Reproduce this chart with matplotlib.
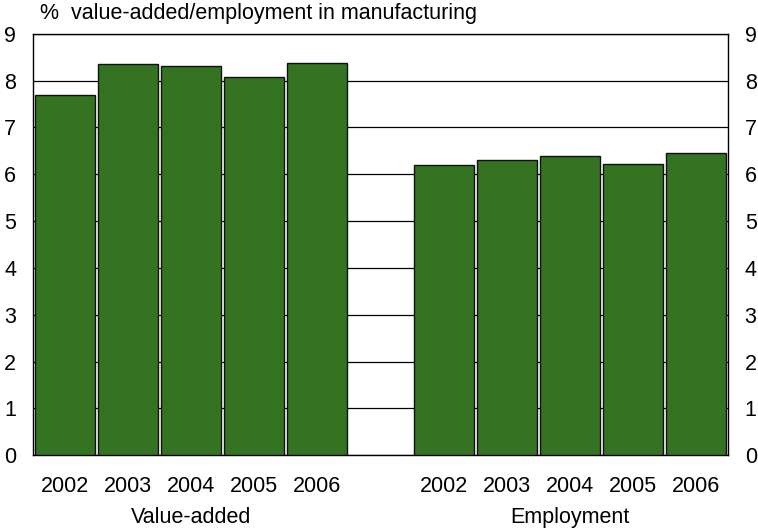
import matplotlib
matplotlib.use("Agg")
import matplotlib.pyplot as plt

plt.rcParams["font.family"] = ["Liberation Sans", "DejaVu Sans"]

years = ["2002", "2003", "2004", "2005", "2006"]
value_added = [7.7, 8.35, 8.32, 8.07, 8.37]
employment = [6.2, 6.3, 6.4, 6.22, 6.45]
groups = ["Value-added", "Employment"]


def main():
    fig = plt.figure(figsize=(7.58, 5.28), dpi=100)
    ax = fig.add_axes([0.0435, 0.138, 0.917, 0.798])

    xs_va = list(range(len(years)))
    xs_emp = [x + len(years) + 1 for x in xs_va]
    bar_kw = dict(width=0.95, color="#337322", edgecolor="#111111", linewidth=1.0, zorder=3)
    ax.bar(xs_va, value_added, **bar_kw)
    ax.bar(xs_emp, employment, **bar_kw)

    ax.set_xlim(-0.5, xs_emp[-1] + 0.5)
    ax.set_ylim(0, 9)
    ax.set_yticks(range(10))
    ax.yaxis.grid(True, color="black", linewidth=0.9)
    ax.set_axisbelow(True)
    for s in ax.spines.values():
        s.set_color("black")
        s.set_linewidth(1.0)

    ax.set_xticks(xs_va + xs_emp)
    ax.set_xticklabels(years + years)
    ax.tick_params(axis="both", length=0, labelsize=15.5)
    ax.tick_params(axis="x", pad=15)
    ax.tick_params(axis="y", pad=12, labelright=True)

    centers = [sum(xs_va) / len(xs_va), sum(xs_emp) / len(xs_emp)]
    for c, name in zip(centers, groups):
        ax.text(c, -0.147, name, transform=ax.get_xaxis_transform(),
                ha="center", va="center", fontsize=15.5)

    fig.text(0.053, 0.9735, "%  value-added/employment in manufacturing",
             ha="left", va="center", fontsize=15.5)

    fig.savefig("out.png", dpi=100)


if __name__ == "__main__":
    main()
